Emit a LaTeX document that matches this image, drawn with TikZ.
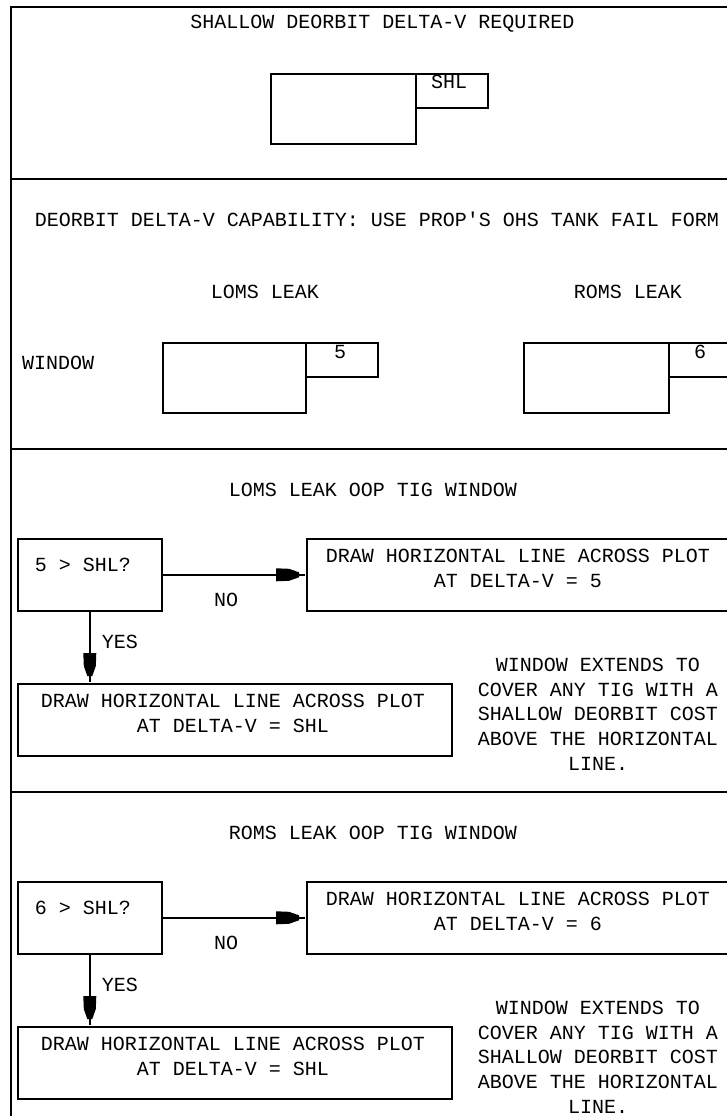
\documentclass[tikz,border=0pt]{standalone}
\usepackage{fontspec}
\setmonofont{Liberation Mono}
\usetikzlibrary{arrows.meta}

\pgfdeclarearrow{
  name = Blunt,
  setup code = {
    \pgfarrowssettipend{0pt}
    \pgfarrowssetlineend{-1pt}
    \pgfarrowssetvisualbackend{-30pt}
    \pgfarrowssetbackend{-30pt}
    \pgfarrowshullpoint{0pt}{0pt}
    \pgfarrowshullpoint{-30pt}{6.5pt}
    \pgfarrowshullpoint{-30pt}{-6.5pt}
  },
  drawing code = {
    \pgfpathmoveto{\pgfqpoint{-30pt}{6.5pt}}
    \pgfpathlineto{\pgfqpoint{-17pt}{6pt}}
    \pgfpathlineto{\pgfqpoint{-7pt}{2.5pt}}
    \pgfpathlineto{\pgfqpoint{-7pt}{-2.5pt}}
    \pgfpathlineto{\pgfqpoint{-17pt}{-6pt}}
    \pgfpathlineto{\pgfqpoint{-30pt}{-6.5pt}}
    \pgfpathclose
    \pgfusepathqfill
  }
}

\begin{document}
\begin{tikzpicture}[x=1pt,y=-1pt,
  txt/.style={font=\ttfamily\fontsize{20}{24.7}\selectfont, inner sep=0pt, anchor=north, align=center},
  box/.style={draw, line width=1.6pt, inner sep=0pt, anchor=north west},
  rule/.style={line width=2pt},
  conn/.style={line width=1.6pt, -{Blunt}},
]
\useasboundingbox (0,0) rectangle (727,1116);
\fill[white] (0,0) rectangle (727,1116);

% frame
\draw[rule] (11,1120) -- (11,7) -- (730,7);

% ---- section 1
\node[txt] (t1) at (382.5,15) {SHALLOW DEORBIT DELTA-V REQUIRED};
\node[box, minimum width=145pt, minimum height=70pt] (sbig) at (270,73) {};
\node[box, minimum width=72pt, minimum height=34pt] (ssmall) at (415,73) {};
\node[txt] (shl) at (449,75) {SHL};

% ---- section 2
\draw[rule] (11,179) -- (730,179);
\node[txt] (h2) at (377,212) {DEORBIT DELTA-V CAPABILITY: USE PROP'S OHS TANK FAIL FORM};
\node[txt] (lomsl) at (265,285) {LOMS LEAK};
\node[txt] (romsl) at (628,285) {ROMS LEAK};
\node[txt, anchor=north west] (win) at (22,356) {WINDOW};
\node[box, minimum width=143pt, minimum height=70pt] (lbig) at (162,342) {};
\node[box, minimum width=72pt, minimum height=34pt] (lsmall) at (305,342) {};
\node[txt] (l5) at (340,345) {5};
\node[box, minimum width=145pt, minimum height=70pt] (rbig) at (523,342) {};
\node[box, minimum width=72pt, minimum height=34pt] (rsmall) at (668,342) {};
\node[txt] (r6) at (700,345) {6};

% ---- section 3
\draw[rule] (11,449) -- (730,449);
\node[txt] (t3) at (373,483) {LOMS LEAK OOP TIG WINDOW};
\node[box, minimum width=144pt, minimum height=72pt] (d1) at (17,538) {};
\node[txt] (d1t) at (83,558) {5 > SHL?};
\node[box, minimum width=424pt, minimum height=72pt] (n1) at (306,538) {};
\node[txt] (n1t) at (518,549) {DRAW HORIZONTAL LINE ACROSS PLOT\\AT DELTA-V = 5};
\node[box, minimum width=434pt, minimum height=72pt] (y1) at (17,683) {};
\node[txt] (y1t) at (233,694) {DRAW HORIZONTAL LINE ACROSS PLOT\\AT DELTA-V = SHL};
\draw[conn] (d1.east) -- (n1.west);
\draw[conn] (d1.south) -- (d1.south |- y1.north);
\node[txt] (no1) at (226,593) {NO};
\node[txt] (yes1) at (120,635) {YES};
\node[txt] (w1) at (598,658) {WINDOW EXTENDS TO\\COVER ANY TIG WITH A\\SHALLOW DEORBIT COST\\ABOVE THE HORIZONTAL\\LINE.};

% ---- section 4
\draw[rule] (11,792) -- (730,792);
\node[txt] (t4) at (373,826) {ROMS LEAK OOP TIG WINDOW};
\node[box, minimum width=144pt, minimum height=72pt] (d2) at (17,881) {};
\node[txt] (d2t) at (83,901) {6 > SHL?};
\node[box, minimum width=424pt, minimum height=72pt] (n2) at (306,881) {};
\node[txt] (n2t) at (518,892) {DRAW HORIZONTAL LINE ACROSS PLOT\\AT DELTA-V = 6};
\node[box, minimum width=434pt, minimum height=72pt] (y2) at (17,1026) {};
\node[txt] (y2t) at (233,1037) {DRAW HORIZONTAL LINE ACROSS PLOT\\AT DELTA-V = SHL};
\draw[conn] (d2.east) -- (n2.west);
\draw[conn] (d2.south) -- (d2.south |- y2.north);
\node[txt] (no2) at (226,936) {NO};
\node[txt] (yes2) at (120,978) {YES};
\node[txt] (w2) at (598,1001) {WINDOW EXTENDS TO\\COVER ANY TIG WITH A\\SHALLOW DEORBIT COST\\ABOVE THE HORIZONTAL\\LINE.};
\end{tikzpicture}
\end{document}
